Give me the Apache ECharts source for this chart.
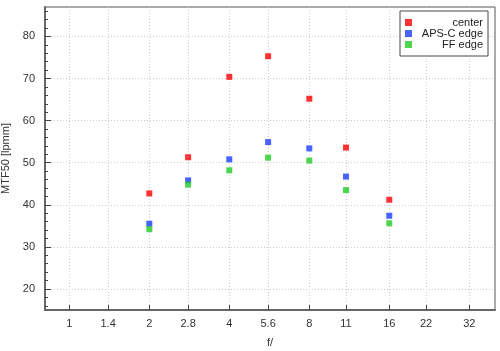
<!DOCTYPE html>
<html>
<head>
<meta charset="utf-8">
<script src="https://cdn.jsdelivr.net/npm/echarts@6/dist/echarts.min.js"></script>
<style>html,body{margin:0;padding:0;background:#fff;}#c{width:500px;height:351px;}</style>
</head>
<body>
<div id="c"></div>
<script>
// f-numbers where measurements exist
const fNumbers = [2, 2.8, 4, 5.6, 8, 11, 16];
const centerVals = [42.7, 51.3, 70.4, 75.3, 65.2, 53.6, 41.2];
const apscVals   = [35.5, 45.8, 50.8, 54.9, 53.4, 46.7, 37.4];
const ffVals     = [34.2, 44.8, 48.2, 51.2, 50.5, 43.5, 35.6];
const xTicks = [1, 1.4, 2, 2.8, 4, 5.6, 8, 11, 16, 22, 32];
const yTicks = [20, 30, 40, 50, 60, 70, 80];
const yMinorTicks = [16, 18, 22, 24, 26, 28, 32, 34, 36, 38, 42, 44, 46, 48, 52, 54, 56, 58, 62, 64, 66, 68, 72, 74, 76, 78, 82, 84, 86];
const seriesNames = ['center', 'APS-C edge', 'FF edge'];
const seriesColors = ['#ff0000', '#1a3cff', '#22cc22'];

const FONT = "'Liberation Sans', Arial, sans-serif";
const pair = vals => fNumbers.map((f, i) => [f, vals[i]]);

const chart = echarts.init(document.getElementById('c'), null, {renderer: 'canvas'});
chart.setOption({
  backgroundColor: '#fff',
  animation: false,
  textStyle: {fontFamily: FONT},
  grid: {left: 45, right: 5, top: 7, bottom: 41, containLabel: false, outerBoundsMode: 'none',
    show: true, borderColor: '#555', borderWidth: 1, backgroundColor: 'transparent'},
  legend: {
    orient: 'vertical', left: 400, top: 11,
    padding: [6, 5, 6, 5],
    borderColor: '#444', borderWidth: 1, backgroundColor: '#fff',
    itemWidth: 7, itemHeight: 7, itemGap: 0, icon: 'rect',
    data: seriesNames,
    formatter: n => '{t|' + n + '}',
    textStyle: {rich: {t: {width: 66, align: 'right', fontSize: 11, lineHeight: 13, color: '#222', fontFamily: FONT}}}
  },
  xAxis: {
    type: 'log', logBase: 2, min: 0.81, max: 40,
    name: 'f/', nameLocation: 'middle', nameGap: 27,
    nameTextStyle: {fontSize: 11, color: '#333', fontFamily: FONT},
    axisLine: {lineStyle: {color: '#666', width: 2}},
    axisTick: {inside: true, length: 5, customValues: xTicks, lineStyle: {color: '#444'}},
    axisLabel: {customValues: xTicks, margin: 8, fontSize: 11, color: '#333', fontFamily: FONT,
      formatter: v => String(+(+v).toPrecision(3))},
    splitLine: {show: true, lineStyle: {color: '#ccc', type: [1, 2]}},
    minorTick: {show: false}
  },
  yAxis: [{
    type: 'value', min: 15, max: 87,
    name: 'MTF50 [lpmm]', nameLocation: 'middle', nameGap: 29,
    nameTextStyle: {fontSize: 11, color: '#333', fontFamily: FONT},
    axisLine: {show: true, lineStyle: {color: '#666', width: 2}},
    axisTick: {show: true, inside: true, length: 6, customValues: yTicks, lineStyle: {color: '#444'}},
    axisLabel: {customValues: yTicks, margin: 10, fontSize: 11, color: '#333', fontFamily: FONT},
    splitLine: {show: true, lineStyle: {color: '#ccc', type: [1, 2]}}
  }, {
    type: 'value', min: 15, max: 87, position: 'left', offset: 0,
    axisLine: {show: false},
    axisTick: {show: true, inside: true, length: 3, customValues: yMinorTicks, lineStyle: {color: '#444'}},
    axisLabel: {show: false},
    splitLine: {show: false}
  }],
  series: [
    {name: seriesNames[0], type: 'scatter', symbol: 'rect', symbolSize: 6, data: pair(centerVals), itemStyle: {color: seriesColors[0]}},
    {name: seriesNames[1], type: 'scatter', symbol: 'rect', symbolSize: 6, data: pair(apscVals), itemStyle: {color: seriesColors[1]}},
    {name: seriesNames[2], type: 'scatter', symbol: 'rect', symbolSize: 6, data: pair(ffVals), itemStyle: {color: seriesColors[2]}}
  ]
});
</script>
</body>
</html>
